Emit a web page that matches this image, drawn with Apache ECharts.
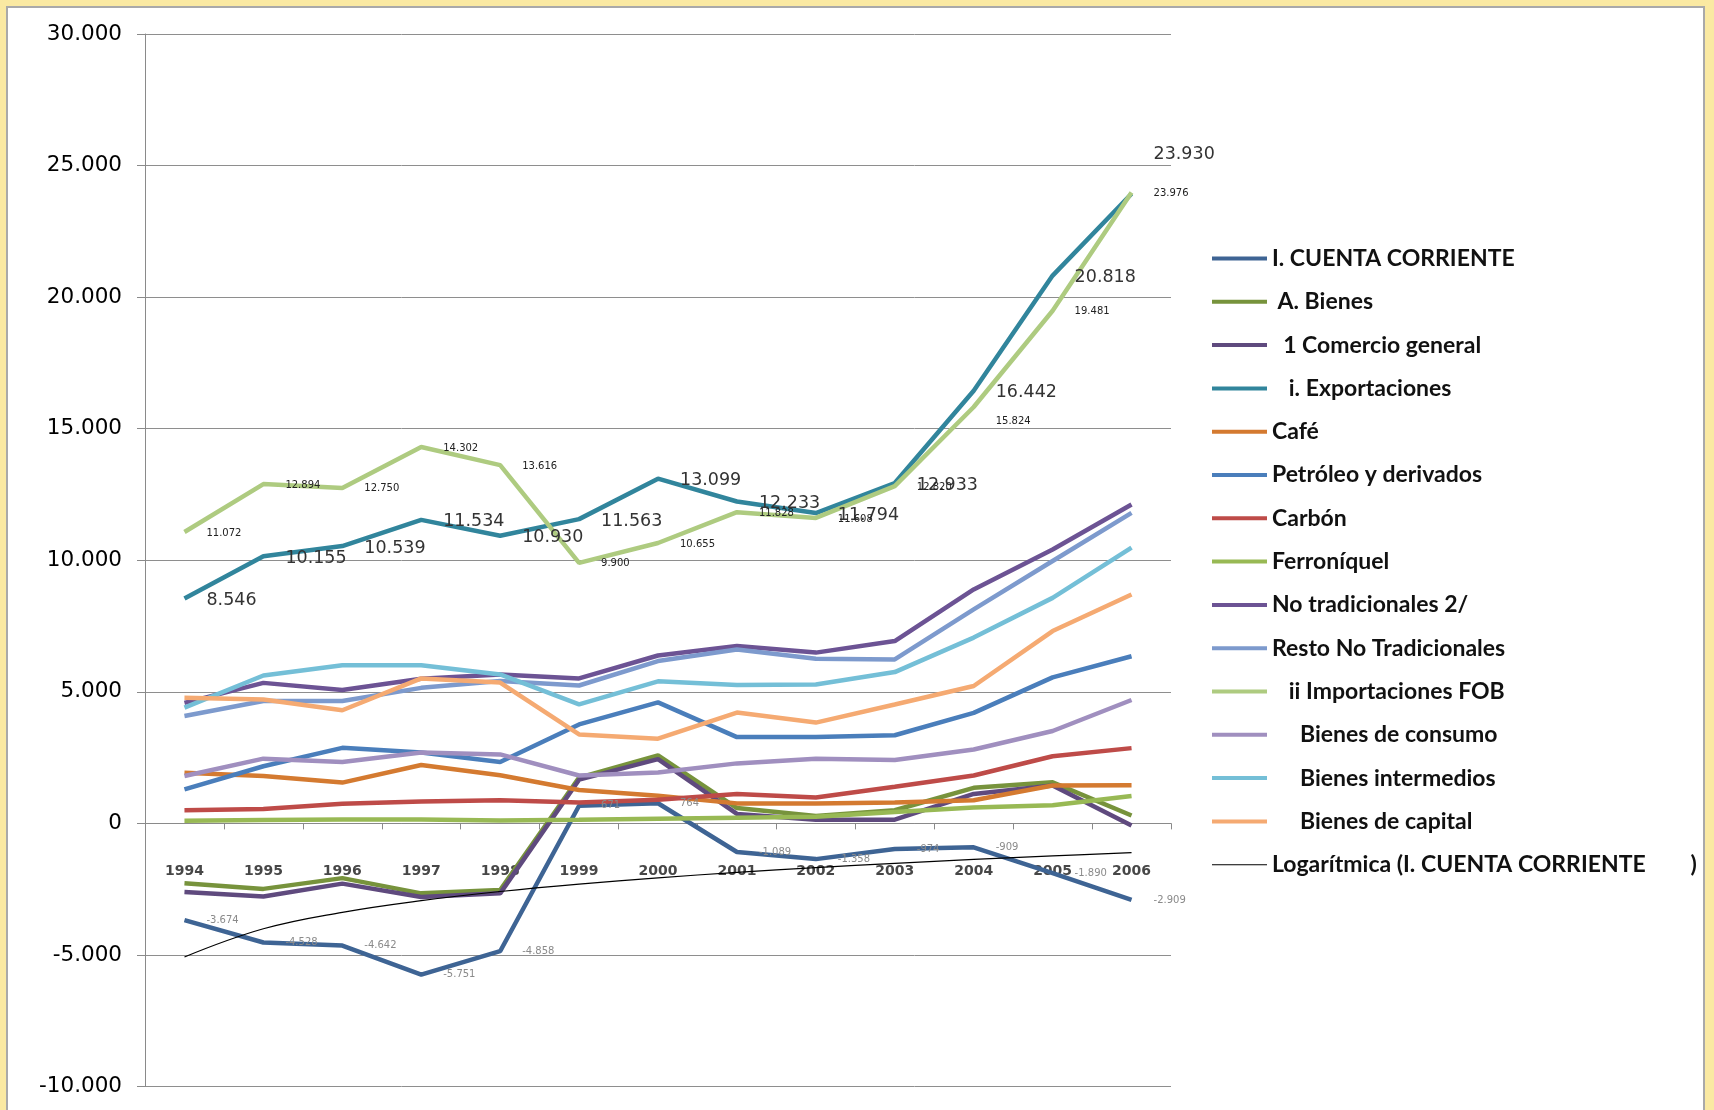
<!DOCTYPE html>
<html>
<head>
<meta charset="utf-8">
<script src="https://cdn.jsdelivr.net/npm/echarts@6/dist/echarts.min.js"></script>
<style>
  html, body { margin: 0; padding: 0; width: 1714px; height: 1110px; overflow: hidden; background: #FAE9A2; }
  #panel { position: absolute; left: 6px; top: 6px; width: 1695px; height: 1200px; background: #fff; border: 2px solid #A9A9A9; }
  #chart { position: absolute; left: 0; top: 0; width: 1714px; height: 1110px; }
</style>
</head>
<body>
<div id="panel"></div>
<div id="chart"></div>
<script>
// ---- data ----
const years = ['1994','1995','1996','1997','1998','1999','2000','2001','2002','2003','2004','2005','2006'];
const yTicks = { min: -10000, max: 30000, interval: 5000 };

const cuentaCorriente = [-3674,-4528,-4642,-5751,-4858,671,764,-1089,-1358,-974,-909,-1890,-2909];
const bienes          = [-2280,-2490,-2080,-2660,-2530,1740,2580,580,280,500,1350,1560,300];
const comercioGeneral = [-2610,-2780,-2290,-2800,-2660,1660,2440,360,140,140,1120,1440,-80];
const exportaciones   = [8546,10155,10539,11534,10930,11563,13099,12233,11794,12933,16442,20818,23930];
const cafe            = [1920,1800,1550,2220,1830,1270,1050,760,760,790,880,1440,1450];
const petroleo        = [1290,2170,2870,2690,2330,3760,4600,3280,3280,3350,4200,5550,6350];
const carbon          = [500,550,750,830,880,790,900,1120,980,1390,1820,2550,2860];
const ferroniquel     = [100,130,150,150,110,140,180,215,250,430,600,690,1040];
const noTradicionales = [4580,5340,5070,5500,5660,5510,6380,6740,6490,6930,8890,10410,12120];
const restoNoTrad     = [4080,4650,4650,5150,5410,5240,6170,6610,6260,6230,8130,9970,11800];
const importaciones   = [11072,12894,12750,14302,13616,9900,10655,11828,11608,12820,15824,19481,23976];
const bienesConsumo   = [1800,2460,2330,2690,2620,1820,1930,2280,2460,2410,2810,3510,4690];
const bienesInterm    = [4400,5620,6010,6010,5660,4520,5400,5260,5280,5750,7060,8570,10480];
const bienesCapital   = [4770,4710,4300,5510,5350,3380,3220,4210,3830,4520,5220,7310,8700];
// logarithmic trend line of I. CUENTA CORRIENTE
const tendenciaLog    = [-5077,-4006,-3379,-2935,-2590,-2308,-2070,-1864,-1681,-1519,-1371,-1237,-1113];

const names = [
  'I. CUENTA CORRIENTE',
  ' A. Bienes',
  '  1 Comercio general',
  '   i. Exportaciones',
  'Café',
  'Petróleo y derivados',
  'Carbón',
  'Ferroníquel',
  'No tradicionales 2/',
  'Resto No Tradicionales',
  '   ii Importaciones FOB',
  '     Bienes de consumo',
  '     Bienes intermedios',
  '     Bienes de capital',
  'Logarítmica (I. CUENTA CORRIENTE        )'
];
const colors = ['#3E6494','#77933C','#5F4A7E','#31859C','#D47A30','#4A7EBB','#BE4B48','#98B954',
                '#6C5394','#7D9ACD','#AECB80','#A08FBF','#74BFD7','#F5AA72','#000000'];

// ---- helpers ----
function fmt(v) {
  const s = Math.abs(Math.round(v)).toString().replace(/\B(?=(\d{3})+(?!\d))/g, '.');
  return (v < 0 ? '-' : '') + s;
}

const chart = echarts.init(document.getElementById('chart'));

function lineSeries(i, data, extra) {
  return Object.assign({
    name: names[i],
    type: 'line',
    data: data,
    symbol: 'none',
    color: colors[i],
    lineStyle: { width: 4.5, color: colors[i] },
    animation: false,
    z: 2
  }, extra || {});
}

function labeled(data, offsets) {
  return data.map((v, i) => {
    const o = { value: v };
    if (offsets && offsets[i]) o.label = { offset: offsets[i] };
    return o;
  });
}

const expoOffsets = {}; expoOffsets[12] = [0, -39];
const impoOffsets = {}; impoOffsets[10] = [0, 14];

const series = [
  lineSeries(0, labeled(cuentaCorriente), {
    symbol: 'circle', symbolSize: 0.01, showSymbol: true,
    label: { show: true, position: 'right', distance: 22, formatter: p => fmt(p.value),
             fontFamily: 'DejaVu Sans', fontSize: 10, color: '#8a8a8a' }
  }),
  lineSeries(1, bienes),
  lineSeries(2, comercioGeneral),
  lineSeries(3, labeled(exportaciones, expoOffsets), {
    symbol: 'circle', symbolSize: 0.01, showSymbol: true,
    label: { show: true, position: 'right', distance: 22, offset: [0, 2], formatter: p => fmt(p.value),
             fontFamily: 'DejaVu Sans', fontSize: 17.5, color: '#333333' }
  }),
  lineSeries(4, cafe),
  lineSeries(5, petroleo),
  lineSeries(6, carbon),
  lineSeries(7, ferroniquel),
  lineSeries(8, noTradicionales),
  lineSeries(9, restoNoTrad),
  lineSeries(10, labeled(importaciones, impoOffsets), {
    symbol: 'circle', symbolSize: 0.01, showSymbol: true,
    label: { show: true, position: 'right', distance: 22, offset: [0, 1], formatter: p => fmt(p.value),
             fontFamily: 'DejaVu Sans', fontSize: 10, color: '#222222' }
  }),
  lineSeries(11, bienesConsumo),
  lineSeries(12, bienesInterm),
  lineSeries(13, bienesCapital),
  lineSeries(14, tendenciaLog, { lineStyle: { width: 1.2, color: '#000' }, smooth: 0.4, z: 3 })
];

const legendData = names.map((n, i) => {
  if (i === 14) {
    return { name: n, icon: 'path://M0,0h0.05v0.05h-0.05z M0,1.6h55v1h-55z M54.95,3.95h0.05v0.05h-0.05z' };
  }
  return { name: n };
});

chart.setOption({
  backgroundColor: 'transparent',
  animation: false,
  textStyle: { fontFamily: 'DejaVu Sans' },
  grid: { left: 145, right: 543, top: 34, bottom: 23.5, containLabel: false, outerBoundsMode: 'none' },
  legend: {
    orient: 'vertical',
    left: 1207,
    top: 240,
    icon: 'rect',
    itemWidth: 55,
    itemHeight: 4,
    itemGap: 16.3,
    symbolKeepAspect: false,
    data: legendData,
    textStyle: { fontFamily: 'Lato', fontSize: 23, fontWeight: 'bold', color: '#111', lineHeight: 27 },
    selectedMode: false
  },
  xAxis: {
    type: 'category',
    data: years,
    boundaryGap: true,
    axisLine: { onZero: true, lineStyle: { color: '#8A8A8A', width: 1 } },
    axisTick: { show: true, length: 6, inside: false, lineStyle: { color: '#8A8A8A' } },
    axisLabel: { margin: -222, fontFamily: 'DejaVu Sans', fontSize: 14, fontWeight: 'bold', color: '#474747' },
    splitLine: { show: false }
  },
  yAxis: {
    type: 'value',
    min: yTicks.min, max: yTicks.max, interval: yTicks.interval,
    axisLine: { show: true, lineStyle: { color: '#8A8A8A', width: 1 } },
    axisTick: { show: true, length: 8, lineStyle: { color: '#8A8A8A' } },
    axisLabel: { margin: 23, fontFamily: 'DejaVu Sans', fontSize: 21.5, color: '#000', formatter: v => fmt(v) },
    splitLine: { show: true, lineStyle: { color: '#8E8E8E', width: 1 } }
  },
  series: series
});
</script>
</body>
</html>
